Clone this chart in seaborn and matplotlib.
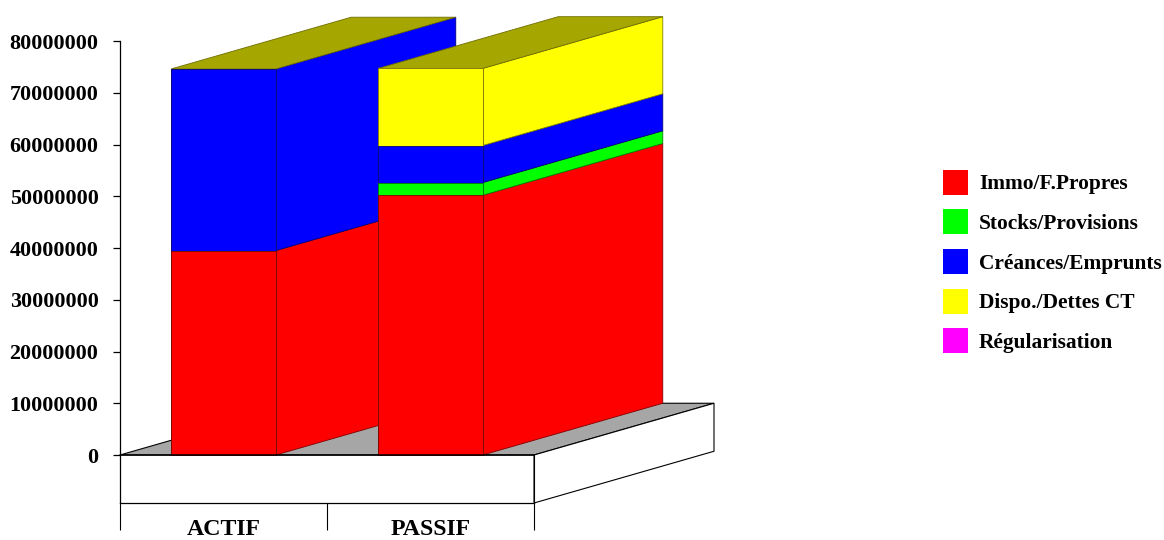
import numpy as np
import pandas as pd
import seaborn as sns
import matplotlib
matplotlib.use("Agg")
import matplotlib.pyplot as plt
from matplotlib.patches import Patch, Polygon

categories = ["ACTIF", "PASSIF"]
series_names = ["Immo/F.Propres", "Stocks/Provisions", "Créances/Emprunts", "Dispo./Dettes CT", "Régularisation"]
immo = [39500000, 50200000]
stocks = [0, 2450000]
creances = [35100000, 7150000]
dispo = [0, 14900000]
regul = [0, 0]
colors = ["#FF0000", "#00FF00", "#0000FF", "#FFFF00", "#FF00FF"]
edge_colors = ["#800000", "#008000", "#000080", "#808000", "#800080"]
y_ticks = [0, 10000000, 20000000, 30000000, 40000000, 50000000, 60000000, 70000000, 80000000]

sns.set_style("white")
plt.rcParams["font.family"] = ["Liberation Serif", "DejaVu Serif"]
plt.rcParams["font.weight"] = "bold"

W, H = 1164, 540
fig = plt.figure(figsize=(W / 100, H / 100), dpi=100)
ax = fig.add_axes([120 / W, (H - 503) / H, 414 / W, 462 / H])
ax.patch.set_alpha(0)

y_bottom = -9275000
bar_width = 0.505
# fake 3d depth, in data units
depth_x = 180 / 207
depth_y = 10000000

stack = np.array([immo, stocks, creances, dispo, regul], dtype=float)
tops = np.cumsum(stack, axis=0)

# floor
ax.add_patch(Polygon([(-0.5, 0), (1.5, 0), (1.5 + depth_x, depth_y), (-0.5 + depth_x, depth_y)],
                     facecolor="#A6A6A6", edgecolor="black", linewidth=0.8, clip_on=False, zorder=1))
# right side of the base
ax.add_patch(Polygon([(1.5, 0), (1.5 + depth_x, depth_y), (1.5 + depth_x, y_bottom + depth_y), (1.5, y_bottom)],
                     facecolor="white", edgecolor="black", linewidth=0.8, clip_on=False, zorder=1))

# sides and tops of the columns
for i in range(len(categories)):
    z = 2 + i
    xr = i + bar_width / 2
    xl = i - bar_width / 2
    for k in range(len(series_names)):
        if stack[k, i] == 0:
            continue
        b = tops[k, i] - stack[k, i]
        t = tops[k, i]
        ax.add_patch(Polygon([(xr, b), (xr + depth_x, b + depth_y), (xr + depth_x, t + depth_y), (xr, t)],
                             facecolor=colors[k], edgecolor=edge_colors[k], linewidth=0.6, clip_on=False, zorder=z))
    t = tops[-1, i]
    ax.add_patch(Polygon([(xl, t), (xr, t), (xr + depth_x, t + depth_y), (xl + depth_x, t + depth_y)],
                         facecolor="#A6A600", edgecolor="#6E6E00", linewidth=0.6, clip_on=False, zorder=z))

# front faces, tallest first so each one covers the lower part of the previous
for k in reversed(range(len(series_names))):
    df = pd.DataFrame({"cat": categories, "top": tops[k]})
    sns.barplot(data=df, x="cat", y="top", order=categories, color=colors[k], saturation=1, width=bar_width,
                edgecolor=edge_colors[k], linewidth=0.6, zorder=5, ax=ax)

ax.set_xlim(-0.5, 1.5)
ax.set_ylim(y_bottom, 80000000)
ax.set_xlabel("")
ax.set_ylabel("")

# front of the base
ax.plot([-0.5, 1.5], [0, 0], color="black", linewidth=1.1, zorder=6, clip_on=False)
ax.plot([1.5, 1.5], [y_bottom, 0], color="black", linewidth=0.8, zorder=6, clip_on=False)

ax.set_yticks(y_ticks)
ax.ticklabel_format(axis="y", style="plain", useOffset=False)
ax.tick_params(axis="y", length=5, width=0.9, color="black", labelcolor="black", pad=10.5, labelsize=15.9, left=True)
ax.set_xticks([-0.5, 0.5, 1.5])
ax.set_xticklabels([])
ax.set_xticks([0, 1], minor=True)
ax.set_xticklabels(categories, minor=True, fontsize=17.2)
ax.tick_params(axis="x", which="major", length=19.5, width=0.8, color="black", direction="out", bottom=True)
ax.tick_params(axis="x", which="minor", length=0, pad=11.5, labelcolor="black")

sns.despine(ax=ax, top=True, right=True)
ax.spines["left"].set_color("black")
ax.spines["left"].set_linewidth(0.9)
ax.spines["bottom"].set_color("black")
ax.spines["bottom"].set_linewidth(0.9)

handles = [Patch(facecolor=c, edgecolor="none") for c in colors]
fs = 15.4
fig.legend(handles, series_names, loc="center left", bbox_to_anchor=(943 / W, (H - 261.5) / H), frameon=False,
           fontsize=fs, labelcolor="black", handlelength=18 / fs, handleheight=1.42, handletextpad=0.52,
           labelspacing=0.69, borderpad=0, borderaxespad=0)

fig.savefig("out.png", dpi=100)
